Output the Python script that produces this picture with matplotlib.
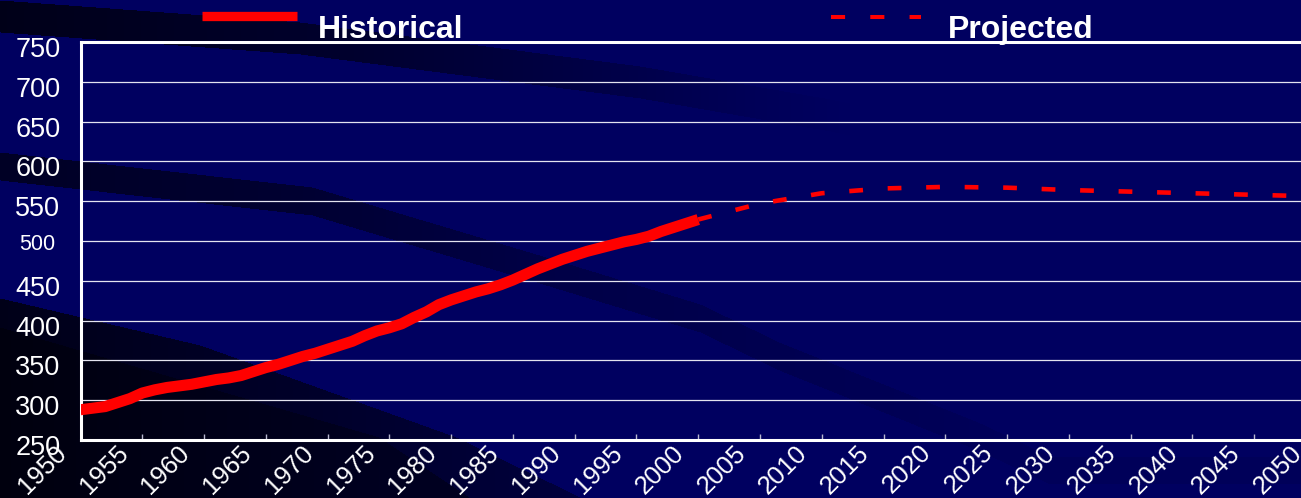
import numpy as np
import matplotlib
matplotlib.use('Agg')
import matplotlib.pyplot as plt
from matplotlib.transforms import ScaledTranslation

plt.rcParams['font.family'] = ['Liberation Sans', 'DejaVu Sans']

# Data
hist_years = list(range(1950, 2001))
hist_values = [288, 290, 292, 297, 302, 309, 313, 316, 318, 320,
               323, 326, 328, 331, 336, 341, 345, 350, 355, 359,
               364, 369, 374, 381, 387, 391, 396, 404, 411, 420,
               426, 431, 436, 440, 445, 451, 458, 465, 471, 477,
               482, 487, 491, 495, 499, 502, 506, 512, 517, 522,
               527]
proj_years = [2000, 2005, 2010, 2015, 2020, 2025, 2030, 2035, 2040, 2045, 2050]
proj_values = [527, 547, 560, 566, 568, 567, 564, 562, 560, 558, 556]
x_ticks = list(range(1950, 2051, 5))
y_ticks = list(range(250, 751, 50))

W, H = 1301, 498
fig = plt.figure(figsize=(W / 100, H / 100), dpi=100)

# background: navy slide with dark swooshes
yy, xx = np.mgrid[0:H, 0:W]


def band(xs, ys, hw, sx, ss):
    yc = np.interp(xx, xs, ys)
    s = np.interp(xx, sx, ss)
    return np.where(np.abs(yy - yc) < hw, s, 0.0)


dark = np.zeros((H, W))
dark = np.maximum(dark, band([0, 300, 640, 830, 1000], [16, 38, 82, 115, 150], 16,
                             [0, 350, 600, 750, 850], [0.85, 0.6, 0.3, 0.1, 0.0]))
dark = np.maximum(dark, band([0, 312, 536, 700, 779, 980, 1050], [166, 201, 268, 318, 356, 437, 470], 14,
                             [0, 300, 550, 750, 1000], [0.7, 0.55, 0.3, 0.2, 0.08]))
edge_c = np.interp(xx, [0, 200, 456, 582], [298, 345, 437, 498])
dark = np.maximum(dark, np.where(yy > edge_c, np.interp(xx, [0, 300, 600], [0.85, 0.65, 0.4]), 0.0))
edge_c2 = np.interp(xx, [0, 379, 470], [327, 437, 498])
dark = np.maximum(dark, np.where(yy > edge_c2, np.interp(xx, [0, 400], [0.97, 0.75]), 0.0))
base = np.array([0, 0, 96]) / 255
deep = np.array([0, 0, 12]) / 255
img = base * (1 - dark[..., None]) + deep * dark[..., None]

bg = fig.add_axes([0, 0, 1, 1], zorder=-10)
bg.imshow(img, extent=(0, W, H, 0), aspect='auto', interpolation='nearest')
bg.set_xlim(0, W)
bg.set_ylim(H, 0)
bg.axis('off')

# main axes (right edge runs past the picture like the original)
ax = fig.add_axes([80.5 / W, 58 / H, 1235.5 / W, 398 / H])
ax.patch.set_alpha(0)
ax.plot(hist_years, hist_values, color='#ff0000', lw=8, solid_capstyle='butt',
        solid_joinstyle='round', zorder=3)
ax.plot(proj_years, proj_values, color='#ff0000', lw=3.3,
        linestyle=(0, (3.0, 5.4)), dash_capstyle='butt', zorder=3)

ax.set_xlim(1950, 2050)
ax.set_ylim(250, 750)
ax.set_xticks(x_ticks)
ax.set_yticks(y_ticks)
ax.grid(axis='y', color='#e4e4f0', lw=0.9)
ax.set_axisbelow(True)
for sp in ax.spines.values():
    sp.set_color('white')
    sp.set_linewidth(2.2)

ax.tick_params(axis='x', direction='in', length=4, width=1, color='#b8b8d0', pad=0)
ax.tick_params(axis='y', length=0, pad=14.5)
ax.set_xticklabels([str(y) for y in x_ticks], rotation=45, ha='right', va='center',
                   rotation_mode='anchor', fontsize=18.5, color='white')
ax.set_yticklabels([str(v) for v in y_ticks], fontsize=19.5, color='white')

xoff = ScaledTranslation(-18 / 100, -9 / 100, fig.dpi_scale_trans)
for lbl in ax.get_xticklabels():
    lbl.set_transform(lbl.get_transform() + xoff)
for lbl in ax.get_yticklabels():
    if lbl.get_text() == '500':
        lbl.set_fontsize(15.5)
        lbl.set_transform(lbl.get_transform() + ScaledTranslation(-5 / 100, -1 / 100, fig.dpi_scale_trans))
    else:
        lbl.set_transform(lbl.get_transform() + ScaledTranslation(0, -5 / 100, fig.dpi_scale_trans))

# legend drawn by hand across the top
fig.add_artist(plt.Line2D([202 / W, 297 / W], [1 - 16 / H, 1 - 16 / H], color='#ff0000',
                          lw=6.7, solid_capstyle='butt'))
fig.text(318 / W, 1 - 38 / H, 'Historical', color='white', fontsize=23,
         fontweight='bold', va='baseline', ha='left')
fig.add_artist(plt.Line2D([831 / W, 921 / W], [1 - 17 / H, 1 - 17 / H], color='#ff0000',
                          lw=2.9, linestyle=(0, (3.5, 6.25)), dash_capstyle='butt'))
fig.text(948 / W, 1 - 38 / H, 'Projected', color='white', fontsize=23,
         fontweight='bold', va='baseline', ha='left')

fig.savefig('out.png', dpi=100, facecolor='#000060')
